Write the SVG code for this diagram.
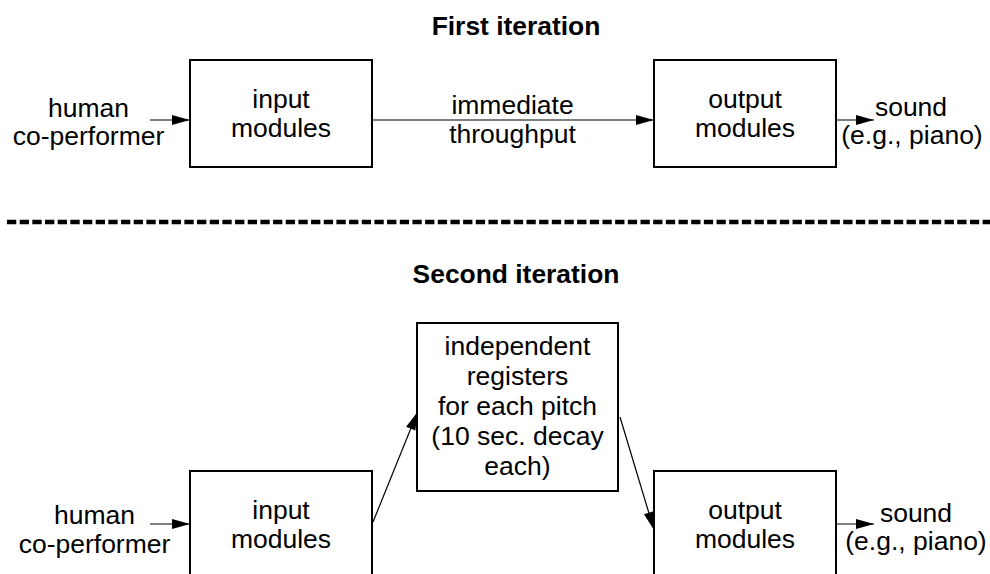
<svg xmlns="http://www.w3.org/2000/svg" width="990" height="574" viewBox="0 0 990 574">
  <defs>
    <marker id="arrow" markerUnits="userSpaceOnUse" markerWidth="18" markerHeight="10" refX="18" refY="5" orient="auto" overflow="visible">
      <path d="M0,0 L18,5 L0,10 Z" fill="#000"/>
    </marker>
  </defs>
  <style>
    .box { fill: #fff; stroke: #000; stroke-width: 2; }
    .lbl { font-family: "Liberation Sans", Arial, sans-serif; font-size: 26.5px; fill: #000; text-anchor: middle; }
    .title { font-family: "Liberation Sans", Arial, sans-serif; font-size: 26.4px; font-weight: bold; fill: #000; text-anchor: middle; }
    .conn { fill: none; stroke: #000; stroke-width: 1.2; marker-end: url(#arrow); }
    .sep { stroke: #000; stroke-width: 4.5; stroke-dasharray: 9.3 3.37; fill: none; }
  </style>
  <rect width="990" height="574" fill="#fff"/>

  <!-- section headings and divider -->
  <text class="title" x="516" y="35">First iteration</text>
  <line class="sep" x1="7" y1="222" x2="990" y2="222"/>
  <text class="title" x="516" y="283">Second iteration</text>

  <!-- first iteration -->
  <g id="human1">
    <text class="lbl" x="88.5" y="116.5">human</text>
    <text class="lbl" x="88.5" y="145">co-performer</text>
  </g>
  <g id="input1">
    <rect class="box" x="190" y="60" width="182" height="107"/>
    <text class="lbl" x="281" y="107.7">input</text>
    <text class="lbl" x="281" y="137.3">modules</text>
  </g>
  <g id="throughput1">
    <text class="lbl" x="512.5" y="114.3">immediate</text>
    <text class="lbl" x="512.5" y="143.3">throughput</text>
  </g>
  <g id="output1">
    <rect class="box" x="654" y="60" width="182" height="107"/>
    <text class="lbl" x="745" y="107.7">output</text>
    <text class="lbl" x="745" y="137.3">modules</text>
  </g>
  <g id="sound1">
    <text class="lbl" x="911" y="115.5">sound</text>
    <text class="lbl" x="912" y="143.5">(e.g., piano)</text>
  </g>

  <!-- second iteration -->
  <g id="human2">
    <text class="lbl" x="94.5" y="524">human</text>
    <text class="lbl" x="94.5" y="553">co-performer</text>
  </g>
  <g id="input2">
    <rect class="box" x="190" y="471" width="182" height="107"/>
    <text class="lbl" x="281" y="518.7">input</text>
    <text class="lbl" x="281" y="548.3">modules</text>
  </g>
  <g id="registers2">
    <rect class="box" x="417" y="323" width="201" height="168"/>
    <text class="lbl" x="517.5" y="355">independent</text>
    <text class="lbl" x="517.5" y="385">registers</text>
    <text class="lbl" x="517.5" y="415">for each pitch</text>
    <text class="lbl" x="517.5" y="445">(10 sec. decay</text>
    <text class="lbl" x="517.5" y="475">each)</text>
  </g>
  <g id="output2">
    <rect class="box" x="654" y="471" width="182" height="107"/>
    <text class="lbl" x="745" y="518.7">output</text>
    <text class="lbl" x="745" y="548.3">modules</text>
  </g>
  <g id="sound2">
    <text class="lbl" x="916" y="521.5">sound</text>
    <text class="lbl" x="916" y="549.5">(e.g., piano)</text>
  </g>

  <!-- connectors -->
  <g id="connectors">
    <line class="conn" x1="150" y1="120" x2="190" y2="120"/>
    <line class="conn" x1="373" y1="120" x2="654" y2="120"/>
    <line class="conn" x1="837" y1="120" x2="874" y2="120"/>
    <line class="conn" x1="150" y1="524" x2="190" y2="524"/>
    <line class="conn" x1="373" y1="522" x2="417.5" y2="412"/>
    <line class="conn" x1="620" y1="417" x2="654" y2="530"/>
    <line class="conn" x1="837" y1="524" x2="874" y2="524"/>
  </g>
</svg>
